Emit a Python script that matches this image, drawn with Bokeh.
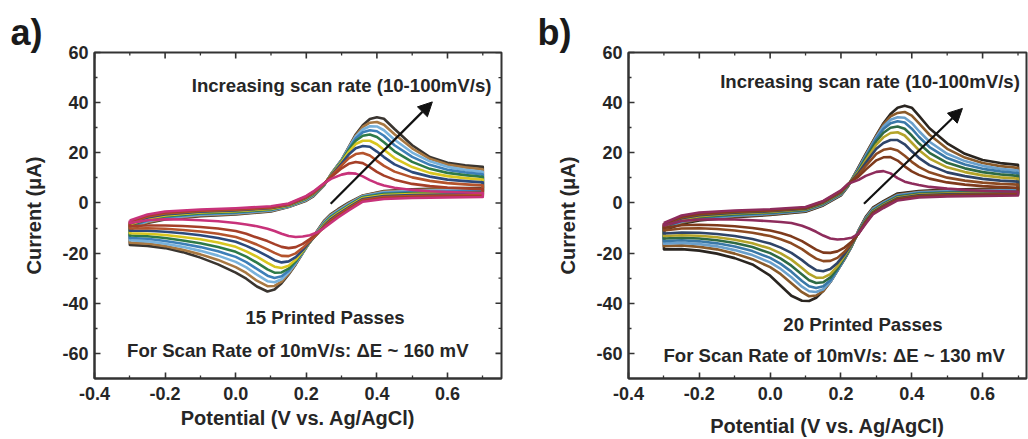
from bokeh.plotting import figure
from bokeh.layouts import row
from bokeh.models import (Range1d, FixedTicker, Label, Arrow, NormalHead, Title)
from bokeh.embed import file_html
from bokeh.resources import INLINE

# ---------------- data ----------------
scan_rates = [10, 20, 30, 40, 50, 60, 70, 80, 90, 100]  # mV/s

# potential grids (V vs Ag/AgCl)
E_fwd = [-0.30, -0.25, -0.20, -0.10, 0.00, 0.10, 0.15, 0.20, 0.22, 0.25, 0.27, 0.30,
         0.32, 0.34, 0.36, 0.38, 0.40, 0.42, 0.45, 0.50, 0.55, 0.60, 0.65, 0.70]
E_rev = [0.70, 0.60, 0.50, 0.42, 0.36, 0.32, 0.29, 0.27, 0.25, 0.23, 0.21, 0.19, 0.17,
         0.15, 0.13, 0.11, 0.09, 0.06, 0.03, 0.00, -0.05, -0.10, -0.15, -0.20, -0.25, -0.30]

# ---- panel a: 15 printed passes, current (uA)
a_fwd = [
    [-7.0, -4.6, -3.4, -2.6, -2.1, -1.3, -0.2, 2.8, 4.6, 7.8, 9.6, 11.3, 11.9, 11.7, 10.6, 9.1, 7.9, 7.0, 6.1, 5.2, 4.7, 4.4, 4.2, 4.0],
    [-7.4, -5.0, -3.8, -2.9, -2.4, -1.6, -0.4, 2.5, 4.3, 7.7, 10.3, 13.8, 15.6, 16.3, 15.9, 14.3, 12.4, 10.9, 9.3, 7.6, 6.7, 6.1, 5.8, 5.5],
    [-7.8, -5.4, -4.2, -3.2, -2.7, -1.9, -0.6, 2.3, 4.0, 7.6, 10.6, 15.0, 17.8, 19.5, 19.9, 18.9, 16.8, 14.8, 12.5, 10.2, 8.8, 7.9, 7.4, 7.0],
    [-8.2, -5.8, -4.6, -3.5, -3.0, -2.1, -0.8, 2.1, 3.8, 7.5, 10.8, 15.8, 19.3, 21.8, 22.7, 22.4, 20.5, 18.3, 15.4, 12.3, 10.5, 9.3, 8.7, 8.2],
    [-8.6, -6.2, -5.0, -3.8, -3.3, -2.4, -1.0, 1.9, 3.6, 7.4, 11.0, 16.3, 20.3, 23.5, 24.8, 24.8, 23.4, 21.2, 17.9, 14.3, 12.0, 10.7, 9.9, 9.3],
    [-9.0, -6.6, -5.3, -4.1, -3.6, -2.6, -1.1, 1.7, 3.4, 7.3, 11.1, 16.6, 21.0, 24.8, 26.8, 27.3, 26.3, 24.2, 20.6, 16.4, 13.6, 12.0, 11.1, 10.4],
    [-9.4, -7.0, -5.7, -4.4, -3.9, -2.8, -1.3, 1.5, 3.2, 7.2, 11.2, 16.8, 21.5, 25.7, 28.2, 29.0, 28.6, 26.8, 23.0, 18.4, 15.2, 13.2, 12.2, 11.4],
    [-9.8, -7.3, -6.0, -4.7, -4.1, -3.0, -1.4, 1.3, 3.0, 7.1, 11.3, 17.0, 21.9, 26.4, 29.3, 30.6, 30.5, 29.0, 25.2, 20.1, 16.6, 14.4, 13.2, 12.4],
    [-10.2, -7.7, -6.3, -5.0, -4.4, -3.2, -1.5, 1.1, 2.8, 7.0, 11.4, 17.1, 22.1, 26.9, 30.3, 32.0, 32.3, 31.2, 27.4, 21.8, 17.6, 15.3, 14.2, 13.4],
    [-10.6, -8.0, -6.6, -5.3, -4.6, -3.4, -1.6, 0.9, 2.6, 6.9, 11.5, 17.2, 22.3, 27.3, 31.0, 33.5, 34.2, 33.6, 29.5, 23.0, 18.3, 16.0, 15.0, 14.4],
]
a_rev = [
    [2.4, 2.2, 2.0, 1.6, 0.5, -3.0, -5.8, -7.9, -10.0, -11.8, -12.9, -13.4, -13.6, -13.2, -12.3, -11.2, -10.3, -9.3, -8.6, -8.0, -7.3, -6.9, -6.6, -6.5, -6.9, -8.0],
    [2.8, 2.6, 2.4, 2.0, 0.8, -2.6, -5.3, -7.4, -9.8, -12.3, -14.4, -16.3, -17.6, -18.0, -17.5, -16.4, -15.2, -13.8, -12.3, -11.2, -10.2, -9.6, -9.2, -9.0, -9.0, -9.2],
    [3.2, 3.0, 2.8, 2.4, 1.2, -2.2, -4.8, -6.9, -9.5, -12.5, -15.2, -17.9, -20.1, -21.2, -21.1, -19.9, -18.5, -16.6, -15.0, -13.6, -12.3, -11.4, -10.8, -10.3, -10.1, -10.2],
    [3.6, 3.4, 3.2, 2.8, 1.6, -1.8, -4.4, -6.4, -9.1, -12.5, -15.5, -18.8, -21.6, -23.3, -23.7, -22.8, -21.2, -19.0, -17.1, -15.5, -14.0, -12.9, -12.1, -11.5, -11.1, -11.1],
    [4.0, 3.8, 3.6, 3.2, 2.0, -1.4, -4.0, -6.0, -8.7, -12.3, -15.6, -19.2, -22.6, -25.0, -25.9, -25.4, -23.9, -21.4, -19.3, -17.5, -15.8, -14.5, -13.6, -12.8, -12.3, -12.1],
    [4.4, 4.2, 4.0, 3.6, 2.3, -1.1, -3.7, -5.6, -8.4, -12.1, -15.6, -19.4, -23.2, -26.2, -27.7, -27.8, -26.5, -23.8, -21.4, -19.5, -17.6, -16.1, -15.0, -14.0, -13.3, -13.0],
    [4.8, 4.6, 4.4, 4.0, 2.5, -0.8, -3.4, -5.3, -8.1, -11.9, -15.6, -19.6, -23.6, -27.0, -29.2, -29.9, -29.0, -26.3, -23.6, -21.5, -19.3, -17.6, -16.3, -15.2, -14.3, -14.0],
    [5.2, 5.0, 4.8, 4.3, 2.7, -0.5, -3.1, -5.0, -7.8, -11.7, -15.6, -19.8, -24.0, -27.7, -30.4, -31.6, -31.2, -28.6, -25.7, -23.5, -21.0, -19.1, -17.5, -16.3, -15.3, -14.9],
    [5.6, 5.4, 5.1, 4.6, 2.9, -0.2, -2.8, -4.7, -7.5, -11.5, -15.6, -19.9, -24.3, -28.2, -31.4, -33.1, -33.2, -31.0, -27.9, -25.6, -22.7, -20.5, -18.7, -17.2, -16.2, -15.8],
    [6.0, 5.8, 5.4, 4.8, 3.0, 0.1, -2.5, -4.4, -7.2, -11.3, -15.6, -20.0, -24.5, -28.5, -32.0, -34.5, -35.3, -33.3, -30.2, -27.8, -24.5, -21.8, -19.6, -18.0, -17.1, -16.7],
]

# ---- panel b: 20 printed passes
b_fwd = [
    [-8.0, -5.0, -3.8, -3.0, -2.5, -1.6, 0.8, 5.0, 7.6, 9.2, 10.8, 12.4, 12.7, 11.8, 9.9, 8.5, 7.8, 7.2, 6.4, 5.7, 5.2, 4.9, 4.7, 4.5],
    [-8.3, -5.4, -4.2, -3.3, -2.8, -1.9, 0.6, 4.7, 7.5, 10.6, 13.3, 17.0, 18.2, 18.3, 16.9, 14.6, 12.6, 11.2, 9.7, 8.2, 7.3, 6.7, 6.3, 6.0],
    [-8.6, -5.8, -4.6, -3.6, -3.1, -2.1, 0.4, 4.4, 7.4, 11.4, 14.8, 19.6, 21.2, 21.7, 20.9, 18.8, 16.4, 14.4, 12.2, 10.1, 8.9, 8.1, 7.6, 7.3],
    [-8.9, -6.1, -4.9, -3.9, -3.3, -2.3, 0.2, 4.2, 7.3, 12.0, 16.0, 21.6, 23.9, 25.1, 25.1, 23.4, 20.6, 18.0, 15.1, 12.2, 10.7, 9.6, 8.9, 8.5],
    [-9.2, -6.5, -5.3, -4.2, -3.6, -2.5, 0.0, 4.0, 7.2, 12.6, 17.0, 23.3, 26.2, 27.9, 28.2, 26.9, 24.0, 21.1, 17.7, 14.2, 12.3, 11.0, 10.2, 9.7],
    [-9.5, -6.8, -5.6, -4.5, -3.8, -2.7, -0.2, 3.8, 7.1, 13.0, 17.8, 24.6, 28.0, 30.0, 30.5, 29.6, 26.9, 23.8, 20.0, 16.0, 13.8, 12.3, 11.4, 10.8],
    [-9.8, -7.2, -6.0, -4.8, -4.1, -2.9, -0.4, 3.6, 7.0, 13.4, 18.4, 25.6, 29.5, 31.8, 32.6, 32.1, 29.6, 26.4, 22.3, 17.9, 15.3, 13.6, 12.6, 11.9],
    [-10.1, -7.5, -6.3, -5.1, -4.3, -3.1, -0.6, 3.4, 6.9, 13.8, 18.9, 26.3, 30.5, 33.2, 34.2, 34.0, 31.9, 28.7, 24.4, 19.6, 16.7, 14.8, 13.6, 12.9],
    [-10.5, -7.9, -6.6, -5.4, -4.6, -3.3, -0.8, 3.2, 6.8, 14.1, 19.3, 26.8, 31.3, 34.5, 35.9, 36.3, 34.8, 31.8, 27.2, 21.6, 18.1, 15.9, 14.7, 14.0],
    [-11.0, -8.3, -7.0, -5.7, -4.8, -3.5, -1.0, 3.0, 6.6, 14.4, 19.6, 27.0, 31.8, 35.5, 38.0, 38.8, 38.0, 34.8, 29.8, 23.8, 19.6, 17.1, 15.9, 15.2],
]
b_rev = [
    [3.0, 2.8, 2.6, 2.2, 1.0, -2.0, -4.6, -8.3, -12.2, -13.9, -14.4, -14.6, -14.2, -13.0, -11.5, -10.2, -9.1, -8.0, -7.6, -7.3, -6.9, -6.6, -6.5, -6.6, -7.2, -9.0],
    [3.3, 3.1, 2.9, 2.5, 1.3, -1.7, -4.3, -7.9, -12.1, -15.5, -17.8, -19.3, -19.9, -19.8, -18.6, -16.9, -15.2, -13.3, -12.0, -11.0, -10.0, -9.3, -8.9, -8.7, -8.9, -10.0],
    [3.6, 3.4, 3.2, 2.8, 1.6, -1.4, -4.0, -7.6, -12.0, -16.0, -19.5, -21.9, -23.1, -23.2, -22.2, -20.4, -18.4, -16.1, -14.5, -13.2, -11.9, -11.0, -10.4, -10.1, -10.2, -11.0],
    [3.9, 3.7, 3.5, 3.1, 1.9, -1.1, -3.7, -7.3, -11.9, -16.4, -20.5, -23.9, -26.3, -27.2, -26.8, -25.0, -22.8, -19.9, -17.8, -16.2, -14.4, -13.2, -12.4, -11.9, -11.8, -12.2],
    [4.2, 4.0, 3.8, 3.4, 2.2, -0.8, -3.4, -7.0, -11.8, -16.7, -21.2, -25.2, -28.4, -29.8, -29.8, -28.3, -25.9, -22.6, -20.1, -18.2, -16.1, -14.7, -13.7, -13.1, -12.9, -13.2],
    [4.5, 4.3, 4.1, 3.7, 2.5, -0.5, -3.1, -6.7, -11.6, -16.9, -21.7, -26.1, -29.7, -31.6, -31.9, -30.8, -28.5, -25.0, -22.2, -20.0, -17.6, -16.0, -14.9, -14.2, -13.9, -14.2],
    [4.8, 4.6, 4.4, 4.0, 2.8, -0.2, -2.8, -6.4, -11.4, -17.1, -22.0, -26.7, -30.8, -33.2, -33.9, -33.2, -31.1, -27.4, -24.3, -21.9, -19.2, -17.4, -16.1, -15.3, -14.9, -15.2],
    [5.1, 4.9, 4.7, 4.3, 3.1, 0.1, -2.5, -6.1, -11.2, -17.2, -22.2, -27.0, -31.5, -34.4, -35.5, -35.2, -33.4, -29.6, -26.3, -23.7, -20.8, -18.8, -17.3, -16.4, -15.9, -16.2],
    [5.4, 5.2, 5.0, 4.5, 3.4, 0.4, -2.2, -5.8, -11.0, -17.3, -22.3, -27.0, -31.5, -35.2, -36.9, -37.2, -35.6, -32.0, -28.4, -25.6, -22.4, -20.2, -18.5, -17.5, -16.9, -17.2],
    [5.7, 5.5, 5.3, 4.8, 3.8, 0.7, -1.9, -5.5, -10.8, -17.4, -22.5, -27.0, -31.5, -35.0, -37.8, -39.1, -39.0, -37.0, -33.0, -29.0, -24.5, -22.0, -20.2, -19.0, -18.4, -18.5],
]

colors_a = ["#c8327a", "#a53f28", "#b4532c", "#2c4a7c", "#d8c620", "#2e7a48",
            "#3d7fb8", "#78b2dc", "#a87842", "#3a3530"]
colors_b = ["#8e2c5c", "#7e3a1c", "#8c4a22", "#2e4468", "#b4a42a", "#2e6a44",
            "#3a78a8", "#6aa0cc", "#8a5a2a", "#2a2520"]

x_ticks = [-0.4, -0.2, 0.0, 0.2, 0.4, 0.6]
x_minor = [-0.3, -0.1, 0.1, 0.3, 0.5, 0.7]
y_ticks = [-60, -40, -20, 0, 20, 40, 60]
y_minor = [-50, -30, -10, 10, 30, 50]
x_labels = {-0.4: "-0.4", -0.2: "-0.2", 0.0: "0.0", 0.2: "0.2", 0.4: "0.4", 0.6: "0.6"}
y_labels = {-60: "-60", -40: "-40", -20: "-20", 0: "0", 20: "20", 40: "40", 60: "60"}

FONT = "Liberation Sans"
TXT = "#262626"
FRAME = "#333333"

PX_PER_Y = 327.0 / 130.0   # pixels per uA (frame 327 px tall for -70..60)


def style_axis(ax):
    ax.axis_line_color = FRAME
    ax.axis_line_width = 2
    ax.major_tick_line_color = FRAME
    ax.major_tick_line_width = 1.6
    ax.minor_tick_line_color = FRAME
    ax.minor_tick_line_width = 1.3
    ax.major_tick_in = 6
    ax.major_tick_out = 0
    ax.minor_tick_in = 3
    ax.minor_tick_out = 0
    ax.major_label_text_font = FONT
    ax.major_label_text_font_style = "bold"
    ax.major_label_text_font_size = "18px"
    ax.major_label_text_color = TXT
    ax.axis_label_text_font = FONT
    ax.axis_label_text_font_style = "bold"
    ax.axis_label_text_font_size = "20px"
    ax.axis_label_text_color = TXT


def make_panel(width, left, right, x_end, fwd, rev, colors, letter, texts, arrow,
               xlabel_standoff, letter_offset, right_ticks):
    frame_w = width - left - right
    px_per_x = frame_w / (x_end + 0.4)
    p = figure(width=width, height=439, output_backend="svg", toolbar_location=None,
               x_range=Range1d(-0.4, x_end), y_range=Range1d(-70, 60),
               min_border_left=left, min_border_right=right,
               min_border_top=52, min_border_bottom=60)
    p.title = Title(text=letter, align="left", offset=letter_offset, standoff=0,
                    text_font=FONT, text_font_style="bold", text_font_size="36px",
                    text_color="#1a1a1a")
    p.xgrid.visible = False
    p.ygrid.visible = False
    p.outline_line_color = FRAME
    p.outline_line_width = 2
    p.background_fill_color = "white"
    p.border_fill_color = "white"

    p.xaxis.ticker = FixedTicker(ticks=x_ticks, minor_ticks=x_minor)
    p.yaxis.ticker = FixedTicker(ticks=y_ticks, minor_ticks=y_minor)
    p.xaxis.major_label_overrides = x_labels
    p.yaxis.major_label_overrides = y_labels
    p.xaxis.axis_label = "Potential (V vs. Ag/AgCl)"
    p.yaxis.axis_label = "Current (\u03bcA)"
    for ax in p.xaxis + p.yaxis:
        style_axis(ax)
    p.xaxis.major_label_standoff = 8
    p.yaxis.major_label_standoff = 6
    p.xaxis.axis_label_standoff = xlabel_standoff
    p.yaxis.axis_label_standoff = 14

    # inward ticks on the top edge (and right edge) of the frame
    major_y = 6 / PX_PER_Y
    minor_y = 3 / PX_PER_Y
    p.segment(x0=x_ticks, y0=[60] * len(x_ticks), x1=x_ticks, y1=[60 - major_y] * len(x_ticks),
              line_color=FRAME, line_width=1.6)
    p.segment(x0=x_minor, y0=[60] * len(x_minor), x1=x_minor, y1=[60 - minor_y] * len(x_minor),
              line_color=FRAME, line_width=1.3)
    if right_ticks:
        major_x = 6 / px_per_x
        minor_x = 3 / px_per_x
        p.segment(x0=[x_end] * len(y_ticks), y0=y_ticks, x1=[x_end - major_x] * len(y_ticks), y1=y_ticks,
                  line_color=FRAME, line_width=1.6)
        p.segment(x0=[x_end] * len(y_minor), y0=y_minor, x1=[x_end - minor_x] * len(y_minor), y1=y_minor,
                  line_color=FRAME, line_width=1.3)

    # draw outer curves first, innermost (10 mV/s) on top
    for k in reversed(range(len(scan_rates))):
        xs = E_fwd + E_rev + [E_fwd[0]]
        ys = fwd[k] + rev[k] + [fwd[k][0]]
        p.line(xs, ys, line_color=colors[k], line_width=2.6, line_join="round")

    (x0, y0, x1, y1) = arrow
    p.add_layout(Arrow(end=NormalHead(size=14, fill_color="#111111", line_color="#111111"),
                       x_start=x0, y_start=y0, x_end=x1, y_end=y1,
                       line_color="#111111", line_width=2.2))

    for (tx, ty, s) in texts:
        p.add_layout(Label(x=tx, y=ty, text=s, text_align="center", text_baseline="middle",
                           text_font=FONT, text_font_style="bold", text_font_size="18.6px",
                           text_color=TXT))
    return p


pa = make_panel(520, 94, 19, 0.753, a_fwd, a_rev, colors_a, "a)",
                [(0.300, 46.9, "Increasing scan rate (10-100mV/s)"),
                 (0.253, -45.8, "15 Printed Passes"),
                 (0.176, -58.8, "For Scan Rate of 10mV/s: \u0394E ~ 160 mV")],
                (0.269, -0.3, 0.557, 40.3), 4, -84, True)

pb = make_panel(508, 108, 2, 0.724, b_fwd, b_rev, colors_b, "b)",
                [(0.282, 48.6, "Increasing scan rate (10-100mV/s)"),
                 (0.262, -48.4, "20 Printed Passes"),
                 (0.181, -61.0, "For Scan Rate of 10mV/s: \u0394E ~ 130 mV")],
                (0.265, -0.3, 0.543, 37.7), 12, -91, False)

layout = row(pa, pb)
open("out.html", "w").write(file_html(layout, INLINE))
